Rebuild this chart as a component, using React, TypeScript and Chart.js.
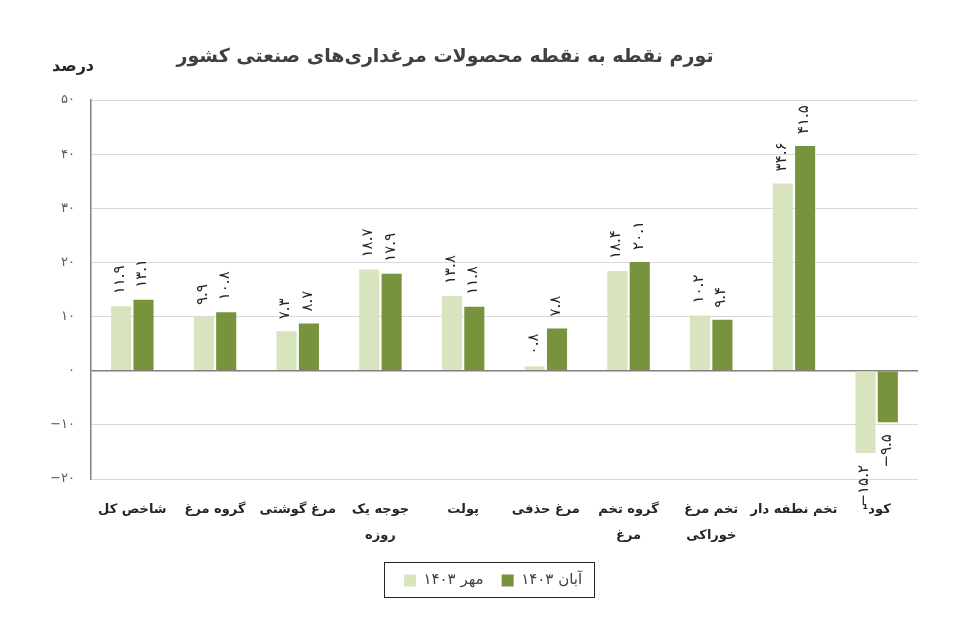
import React, { useEffect, useRef } from "react";
import { Chart, registerables } from "chart.js";

Chart.register(...registerables);

const categories: string[][] = [
  ["شاخص کل"],
  ["گروه مرغ"],
  ["مرغ گوشتی"],
  ["جوجه یک", "روزه"],
  ["پولت"],
  ["مرغ حذفی"],
  ["گروه تخم", "مرغ"],
  ["تخم مرغ", "خوراکی"],
  ["تخم نطفه دار"],
  ["کود¹"],
];
const mehr1403 = [11.9, 9.9, 7.3, 18.7, 13.8, 0.8, 18.4, 10.2, 34.6, -15.2];
const aban1403 = [13.1, 10.8, 8.7, 17.9, 11.8, 7.8, 20.1, 9.4, 41.5, -9.5];
const seriesNames = ["مهر ۱۴۰۳", "آبان ۱۴۰۳"];
const titleText = "تورم نقطه به نقطه محصولات مرغداری‌های صنعتی کشور";
const yAxisTitle = "درصد";

const FONT = "'DejaVu Sans', sans-serif";
const LIGHT = "#d7e4bd";
const DARK = "#77933c";

const fa = (s: string) => s.replace(/[0-9]/g, (d) => "۰۱۲۳۴۵۶۷۸۹"[+d]).replace(/-/g, "−");

const barLabels = {
  id: "barLabels",
  afterDatasetsDraw(chart: any) {
    const ctx = chart.ctx;
    ctx.save();
    ctx.font = `15px ${FONT}`;
    ctx.fillStyle = "#262626";
    chart.data.datasets.forEach((ds: any, i: number) => {
      const meta = chart.getDatasetMeta(i);
      meta.data.forEach((bar: any, j: number) => {
        const v = ds.data[j] as number;
        const txt = fa(v.toFixed(1));
        ctx.save();
        ctx.translate(bar.x - 1, v >= 0 ? bar.y - 12 : bar.y + 12);
        ctx.rotate(-Math.PI / 2);
        ctx.textAlign = v >= 0 ? "left" : "right";
        ctx.textBaseline = "middle";
        ctx.fillText(txt, 0, 0);
        ctx.restore();
      });
    });
    ctx.restore();
  },
};

const legendShift = {
  id: "legendShift",
  afterLayout(chart: any) {
    const l = chart.legend;
    if (l) {
      l.left += 30;
      l.right += 30;
    }
  },
};

const extras = {
  id: "extras",
  afterDraw(chart: any) {
    const ctx = chart.ctx;
    ctx.save();
    ctx.textAlign = "center";
    ctx.textBaseline = "middle";
    ctx.fillStyle = "#404040";
    ctx.font = `bold 19px ${FONT}`;
    ctx.fillText(titleText, 437, 49);
    ctx.font = `bold 16px ${FONT}`;
    ctx.fillStyle = "#262626";
    ctx.fillText(yAxisTitle, 65, 59);
    const hb = chart.legend?.legendHitBoxes || [];
    if (hb.length) {
      const minX = Math.min(...hb.map((h: any) => h.left));
      const maxX = Math.max(...hb.map((h: any) => h.left + h.width));
      const cy = hb[0].top + hb[0].height / 2;
      ctx.strokeStyle = "#262626";
      ctx.lineWidth = 1;
      ctx.strokeRect(Math.round(minX - 20) + 0.5, Math.round(cy - 19) + 0.5, Math.round(maxX - minX + 32), 35);
    }
    ctx.restore();
  },
};

export default function App() {
  const ref = useRef<HTMLCanvasElement>(null);
  useEffect(() => {
    const chart = new Chart(ref.current!, {
      type: "bar",
      data: {
        labels: categories,
        datasets: [
          { label: seriesNames[0], data: mehr1403, backgroundColor: LIGHT, categoryPercentage: 0.54, barPercentage: 0.9 },
          { label: seriesNames[1], data: aban1403, backgroundColor: DARK, categoryPercentage: 0.54, barPercentage: 0.9 },
        ],
      },
      options: {
        animation: false,
        responsive: true,
        maintainAspectRatio: false,
        layout: { padding: { left: 0, right: 45, top: 92, bottom: 12 } },
        plugins: {
          title: { display: false },
          legend: {
            position: "bottom",
            labels: {
              boxWidth: 12,
              boxHeight: 12,
              color: "#404040",
              font: { family: FONT, size: 15 },
              padding: 18,
            },
          },
          tooltip: { enabled: false },
        },
        scales: {
          x: {
            grid: { display: false },
            border: { display: false },
            ticks: {
              color: "#262626",
              font: { family: FONT, size: 13, weight: "bold", lineHeight: 2.05 },
              padding: 9,
              maxRotation: 0,
              autoSkip: false,
            },
            afterFit: (s: any) => {
              s.height = 76;
            },
          },
          y: {
            min: -20,
            max: 50,
            ticks: {
              stepSize: 10,
              color: "#595959",
              font: { family: FONT, size: 13 },
              padding: 16,
              callback: (v: any) => fa(String(v)),
            },
            grid: {
              drawTicks: false,
              color: (c: any) => (c.tick && c.tick.value === 0 ? "#7f7f7f" : "#d9d9d9"),
              lineWidth: (c: any) => (c.tick && c.tick.value === 0 ? 1.5 : 1),
            },
            border: { color: "#7f7f7f", width: 1.5 },
            afterFit: (s: any) => {
              s.width = 83;
            },
          },
        },
      },
      plugins: [legendShift, barLabels, extras],
    });
    return () => chart.destroy();
  }, []);
  return (
    <div style={{ position: "relative", width: 955, height: 602 }}>
      <canvas ref={ref} />
    </div>
  );
}
